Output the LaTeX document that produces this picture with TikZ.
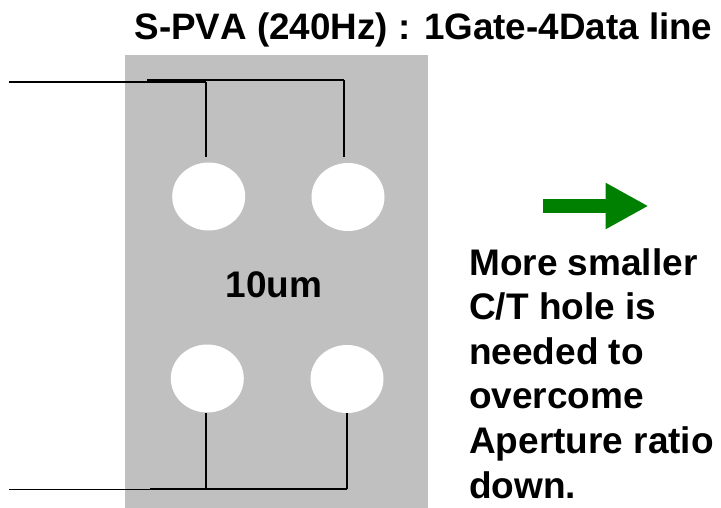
\documentclass[tikz,border=0pt]{standalone}
\usepackage{fontspec}
\setmainfont[Kerning=Off]{Liberation Sans}
\usetikzlibrary{shapes.geometric, arrows.meta, positioning}
\definecolor{panelgray}{RGB}{192, 192, 192}
\definecolor{arrowgreen}{RGB}{0, 128, 0}

\begin{document}
\begin{tikzpicture}[
      x=1pt, y=-1pt,
      hole/.style={ellipse, fill=white, inner sep=0pt, minimum width=73pt, minimum height=68pt},
      wire/.style={black, line width=1.8pt},
      label/.style={font=\fontsize{37}{44.6}\selectfont\bfseries, inner sep=0pt},
      greenarrow/.style={arrowgreen, line width=14.3pt, -{Triangle[length=43pt, width=43.3pt]}}
    ]
    \useasboundingbox (0,0) rectangle (721,508);
    \fill[panelgray] (125,55) rectangle (428,508);

    \node[hole] (h1) at (208.7,196.5) {};
    \node[hole] (h2) at (348,197) {};
    \node[hole] (h3) at (207.3,378.5) {};
    \node[hole] (h4) at (347,379) {};

    %% Gate and data lines
    \coordinate (g1) at (9,81.7);
    \coordinate (j1) at (206,81.7);
    \coordinate (g2) at (147,80.2);
    \coordinate (j2) at (344,80.2);
    \coordinate (g3) at (9,489.5);
    \coordinate (j3) at (206,489.5);
    \coordinate (g4) at (150,489);
    \coordinate (j4) at (347,489);

    \draw[wire] (g1) -- (j1);
    \draw[wire] (g2) -- (j2);
    \draw[wire, shorten >=5pt] (j1) -- (j1 |- h1.north);
    \draw[wire, shorten >=6pt] (j2) -- (j2 |- h2.north);
    \draw[wire] (g3) -- (j3);
    \draw[wire] (g4) -- (j4);
    \draw[wire] (j3) -- (j3 |- h3.south);
    \draw[wire] (j4) -- (j4 |- h4.south);

    %% Text
    \node[label, font=\fontsize{36.8}{44.6}\selectfont\bfseries, anchor=base] (title) at (423.5,40) {S-PVA (240Hz) : 1Gate-4Data line};
    \node[label, anchor=base] (size) at (274,297.3) {10um};
    \coordinate (a1) at (543.3,206);
    \coordinate (a2) at (648.5,206);
    \draw[greenarrow] (a1) -- (a2);
    \node[label, anchor=north west, align=left] (note) at (469,248)
      {More smaller\\C/T hole is\\needed to\\overcome\\Aperture ratio\\down.};
\end{tikzpicture}
\end{document}
